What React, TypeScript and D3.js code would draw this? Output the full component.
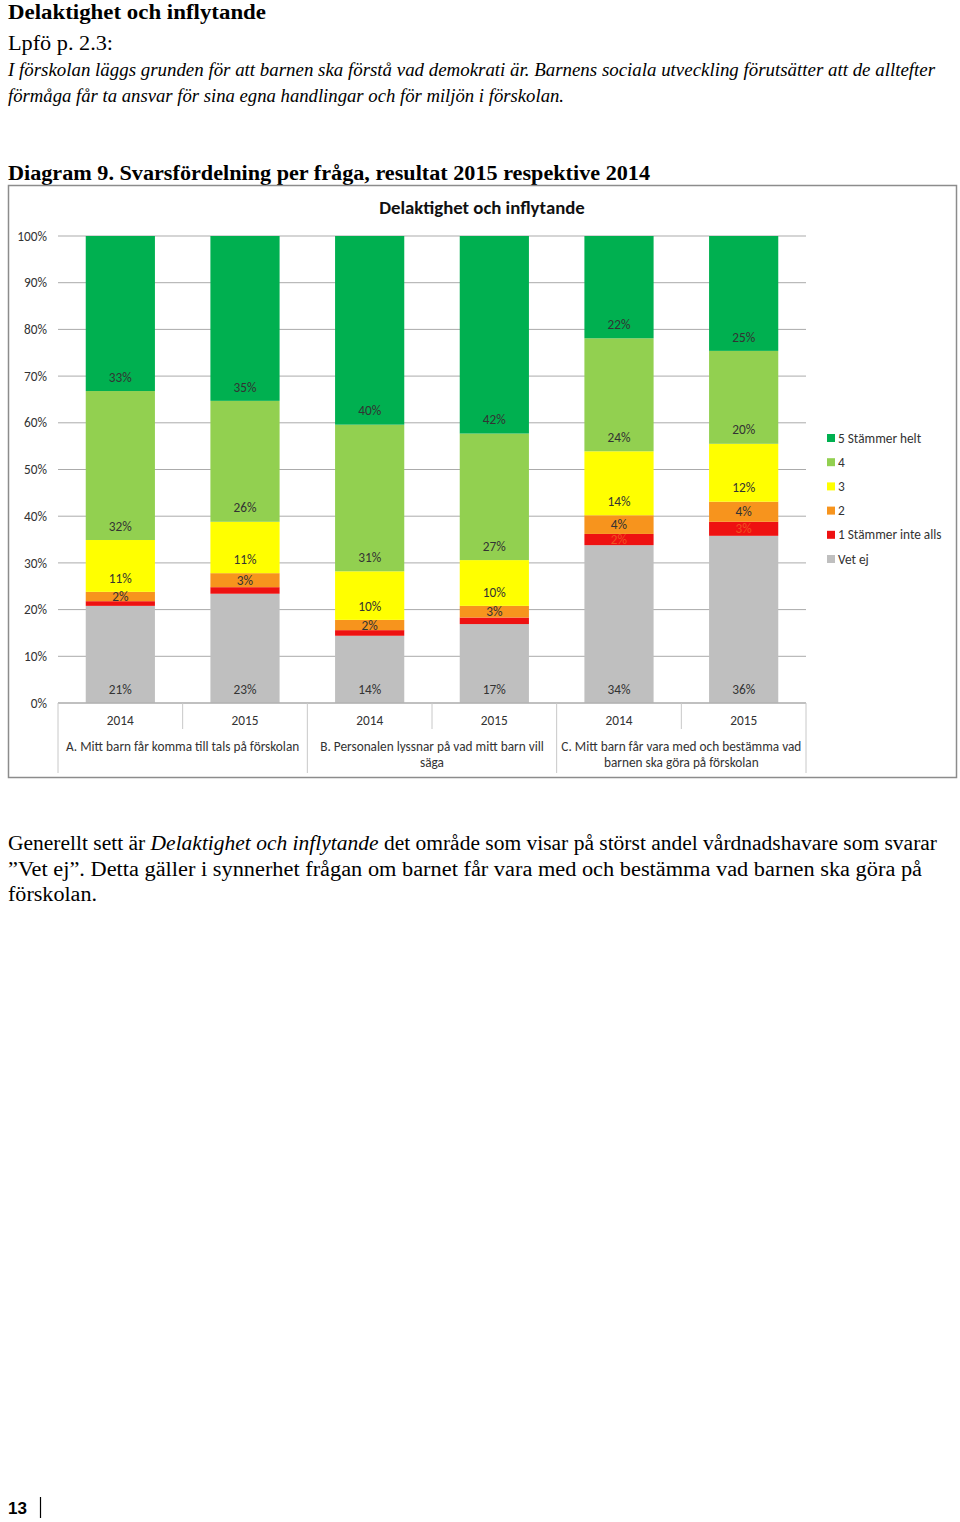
import React from "react";
import * as d3 from "d3";

const categories = ["A2014", "A2015", "B2014", "B2015", "C2014", "C2015"];
const years = ["2014", "2015", "2014", "2015", "2014", "2015"];
const groups = [
  ["A. Mitt barn får komma till tals på förskolan"],
  ["B. Personalen lyssnar på vad mitt barn vill", "säga"],
  ["C. Mitt barn får vara med och bestämma vad", "barnen ska göra på förskolan"],
];
const seriesNames = ["Vet ej", "1 Stämmer inte alls", "2", "3", "4", "5 Stämmer helt"];
const vetEj = [20.8, 23.4, 14.4, 16.9, 33.8, 35.8];
const s1 = [1.0, 1.4, 1.2, 1.4, 2.4, 3.0];
const s2 = [2.0, 3.0, 2.2, 2.5, 4.0, 4.3];
const s3 = [11.1, 11.0, 10.4, 9.8, 13.7, 12.4];
const s4 = [31.9, 25.9, 31.4, 27.1, 24.2, 19.9];
const s5 = [33.2, 35.3, 40.4, 42.3, 21.9, 24.6];
// which labels are shown per series (true = show)
const showLabel = [
  [true, true, true, true, true, true],
  [false, false, false, false, true, true],
  [true, true, true, true, true, true],
  [true, true, true, true, true, true],
  [true, true, true, true, true, true],
  [true, true, true, true, true, true],
];
const yTicks = [0, 10, 20, 30, 40, 50, 60, 70, 80, 90, 100];
const colors = ["#bfbfbf", "#ee1111", "#f7941d", "#ffff00", "#92d050", "#00b050"];
const legendOrder = [5, 4, 3, 2, 1, 0];

const FONT = "Calibri, Carlito, 'Open Sans', sans-serif";
const SERIF = "'Liberation Serif', 'DejaVu Serif', serif";
const FS = 13.3;

export default function App() {
  const allSeries = [vetEj, s1, s2, s3, s4, s5];
  const rows = categories.map((c, i) => {
    const r: any = { cat: c };
    seriesNames.forEach((n, k) => (r[n] = allSeries[k][i]));
    return r;
  });
  const stack = d3.stack<any>().keys(seriesNames)(rows);
  const x = d3.scaleBand<string>().domain(categories).range([58, 806]).paddingInner(0.445).paddingOuter(0.2225);
  const y = d3.scaleLinear().domain([0, 100]).range([703, 236]);
  const step = x.step();
  const axisX0 = 58;

  return (
    <div style={{ position: "absolute", left: 0, top: 0 }}>
      <svg width={960} height={1522} style={{ display: "block" }}>
        <rect x={0} y={0} width={960} height={1522} fill="#fff" />
        {/* Page header */}
        <text x={8} y={19} fontFamily={SERIF} fontWeight="bold" fontSize={20} fill="#000" textLength={258} lengthAdjust="spacingAndGlyphs">Delaktighet och inflytande</text>
        <text x={8} y={50} fontFamily={SERIF} fontSize={20} fill="#000" textLength={105} lengthAdjust="spacingAndGlyphs">Lpfö p. 2.3:</text>
        <text x={8} y={76} fontFamily={SERIF} fontStyle="italic" fontSize={19} fill="#000" textLength={927} lengthAdjust="spacingAndGlyphs">I förskolan läggs grunden för att barnen ska förstå vad demokrati är. Barnens sociala utveckling förutsätter att de alltefter</text>
        <text x={8} y={102} fontFamily={SERIF} fontStyle="italic" fontSize={19} fill="#000" textLength={556} lengthAdjust="spacingAndGlyphs">förmåga får ta ansvar för sina egna handlingar och för miljön i förskolan.</text>
        <text x={8} y={180} fontFamily={SERIF} fontWeight="bold" fontSize={20} fill="#000" textLength={642} lengthAdjust="spacingAndGlyphs">Diagram 9. Svarsfördelning per fråga, resultat 2015 respektive 2014</text>

        {/* Chart frame */}
        <rect x={8.5} y={185.5} width={948} height={592} fill="#fff" stroke="#8c8c8c" strokeWidth={1.5} />
        <text x={482} y={214} textAnchor="middle" fontFamily={FONT} fontWeight="bold" fontSize={18.8} fill="#111">Delaktighet och inflytande</text>

        {/* grid */}
        {yTicks.map((t) => (
          <g key={t}>
            <line x1={axisX0} x2={806} y1={y(t)} y2={y(t)} stroke="#ababab" strokeWidth={1} />
            <text x={47} y={y(t)} dy="0.35em" textAnchor="end" fontFamily={FONT} fontSize={FS} fill="#333">{t}%</text>
          </g>
        ))}

        {/* bars */}
        {stack.map((layer, k) => (
          <g key={k} fill={colors[k]}>
            {layer.map((d, i) => (
              <rect key={i} x={x(categories[i])} width={x.bandwidth()} y={y(d[1])} height={y(d[0]) - y(d[1])} />
            ))}
          </g>
        ))}
        {/* labels */}
        {stack.map((layer, k) => (
          <g key={"l" + k}>
            {layer.map((d, i) => {
              if (!showLabel[k][i]) return null;
              const bottom = y(d[0]);
              const top = y(d[1]);
              const ly = Math.max(bottom - 14, (bottom + top) / 2);
              return (
                <text key={i} x={(x(categories[i]) as number) + x.bandwidth() / 2} y={ly} dy="0.35em" textAnchor="middle" fontFamily={FONT} fontSize={FS} fill={k === 1 ? "#f05020" : "#333"}>
                  {Math.round(d[1] - d[0])}%
                </text>
              );
            })}
          </g>
        ))}

        {/* category axis */}
        <line x1={axisX0} x2={806} y1={703} y2={703} stroke="#ababab" />
        {d3.range(7).map((j) => (
          <line key={j} x1={axisX0 + j * step} x2={axisX0 + j * step} y1={703} y2={j % 2 === 0 ? 773 : 729} stroke="#c8c8c8" />
        ))}
        {categories.map((c, i) => (
          <text key={c} x={(x(c) as number) + x.bandwidth() / 2} y={720} dy="0.35em" textAnchor="middle" fontFamily={FONT} fontSize={FS} fill="#333">{years[i]}</text>
        ))}
        {groups.map((g, j) => (
          <g key={j}>
            {g.map((line, li) => (
              <text key={li} x={axisX0 + (2 * j + 1) * step} y={746 + li * 16} dy="0.35em" textAnchor="middle" fontFamily={FONT} fontSize={FS} fill="#333">{line}</text>
            ))}
          </g>
        ))}

        {/* legend */}
        {legendOrder.map((k, idx) => (
          <g key={k} transform={`translate(827, ${438 + idx * 24.2})`}>
            <rect x={0} y={-4} width={8} height={8} fill={colors[k]} />
            <text x={11} y={0} dy="0.35em" fontFamily={FONT} fontSize={FS} fill="#333">{seriesNames[k]}</text>
          </g>
        ))}

        {/* bottom paragraph */}
        <text x={8} y={850} fontFamily={SERIF} fontSize={20} fill="#000" textLength={929} lengthAdjust="spacingAndGlyphs">
          Generellt sett är <tspan fontStyle="italic">Delaktighet och inflytande</tspan> det område som visar på störst andel vårdnadshavare som svarar
        </text>
        <text x={8} y={876} fontFamily={SERIF} fontSize={20} fill="#000" textLength={914} lengthAdjust="spacingAndGlyphs">”Vet ej”. Detta gäller i synnerhet frågan om barnet får vara med och bestämma vad barnen ska göra på</text>
        <text x={8} y={901} fontFamily={SERIF} fontSize={20} fill="#000" textLength={89} lengthAdjust="spacingAndGlyphs">förskolan.</text>

        {/* page number */}
        <text x={8} y={1514} fontFamily="'Liberation Sans', Arial, sans-serif" fontWeight="bold" fontSize={17} fill="#000">13</text>
        <line x1={40.5} x2={40.5} y1={1497} y2={1518} stroke="#000" strokeWidth={1.2} />
      </svg>
    </div>
  );
}
